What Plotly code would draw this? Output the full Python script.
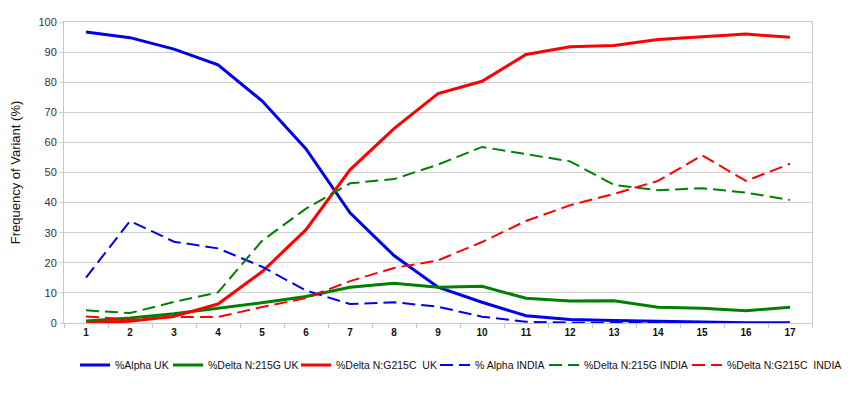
import plotly.graph_objects as go

weeks = [str(i) for i in range(1, 18)]

alpha_uk = [96.7, 94.8, 91.0, 85.8, 73.8, 57.8, 36.6, 22.4, 11.9, 6.9, 2.4, 1.2, 0.8, 0.5, 0.2, 0.1, 0.1]
delta_215g_uk = [0.7, 1.7, 3.1, 4.8, 6.7, 8.8, 11.9, 13.2, 11.9, 12.2, 8.2, 7.3, 7.4, 5.2, 4.9, 4.1, 5.2]
delta_g215c_uk = [0.2, 0.6, 2.2, 6.3, 17.0, 31.0, 50.9, 64.6, 76.2, 80.3, 89.2, 91.8, 92.2, 94.2, 95.1, 96.0, 94.9]
alpha_india = [15.1, 33.9, 27.0, 24.8, 18.7, 10.8, 6.3, 6.9, 5.4, 2.1, 0.4, 0.1, 0.1, 0.1, 0.0, 0.0, 0.0]
delta_215g_india = [4.2, 3.3, 7.0, 10.2, 27.3, 38.0, 46.4, 47.8, 52.6, 58.5, 56.1, 53.7, 45.9, 44.1, 44.8, 43.3, 40.9]
delta_g215c_india = [2.2, 1.1, 2.0, 2.0, 5.3, 8.3, 13.9, 18.3, 20.8, 26.9, 33.9, 39.1, 42.9, 47.2, 55.7, 47.2, 52.9]

names = ["%Alpha UK", "%Delta N:215G UK", "%Delta N:G215C \u00a0UK",
         "% Alpha INDIA", "%Delta N:215G INDIA", "%Delta N:G215C \u00a0INDIA"]
series = [alpha_uk, delta_215g_uk, delta_g215c_uk, alpha_india, delta_215g_india, delta_g215c_india]
colors = ["#0000ee", "#008000", "#ff0000", "#0000ee", "#008000", "#ff0000"]
dashes = ["solid", "solid", "solid", "13px,6px", "13px,6px", "13px,6px"]
widths = [3, 3, 3, 2, 2, 2]
legend_ids = ["legend", "legend2", "legend3", "legend4", "legend5", "legend6"]
# legend text start positions (page px)
legend_text_x = [115, 208, 336, 475, 584, 727]

OFF = 8  # page body margin
W, H = 850 - OFF, 395 - OFF

fig = go.Figure()
for n, s, c, d, w, lg in zip(names, series, colors, dashes, widths, legend_ids):
    fig.add_trace(go.Scatter(x=weeks, y=s, name=n, mode="lines", legend=lg,
                             line=dict(color=c, dash=d, width=w)))

legend_layout = {}
for lg, tx in zip(legend_ids, legend_text_x):
    legend_layout[lg] = dict(
        xref="container", yref="container",
        x=(tx - OFF - 40) / W, xanchor="left",
        y=1 - (365 - OFF) / H, yanchor="middle",
        orientation="h", bgcolor="rgba(0,0,0,0)", borderwidth=0,
        font=dict(size=10.5, color="#111111", family="Liberation Sans, Arial, sans-serif"),
        itemwidth=30,
    )

fig.update_layout(
    width=W, height=H,
    margin=dict(l=64 - OFF, r=38, t=22 - OFF, b=72, autoexpand=False),
    plot_bgcolor="white", paper_bgcolor="white",
    font=dict(family="Liberation Sans, Arial, sans-serif", color="#222222"),
    showlegend=True,
    xaxis=dict(type="category", range=[-0.5, 16.5], showgrid=False,
               tickson="boundaries", ticks="outside", ticklen=4, tickcolor="#c8c8c8",
               showline=True, linecolor="#c8c8c8", linewidth=1, mirror=True,
               tickfont=dict(size=10, color="#111111", family="Liberation Sans, Arial, sans-serif",
                             weight="bold")),
    yaxis=dict(range=[0, 100], dtick=10, showgrid=True, gridcolor="#d0d0d0", gridwidth=1,
               ticks="outside", ticklen=4, tickcolor="#d0d0d0",
               showline=True, linecolor="#c8c8c8", linewidth=1, mirror=True,
               zeroline=False,
               tickfont=dict(size=11, color="#333333"),
               title=dict(text="Frequency of Variant (%)", font=dict(size=13, color="#111111"),
                          standoff=16)),
    **legend_layout,
)

fig.write_html("out.html")
